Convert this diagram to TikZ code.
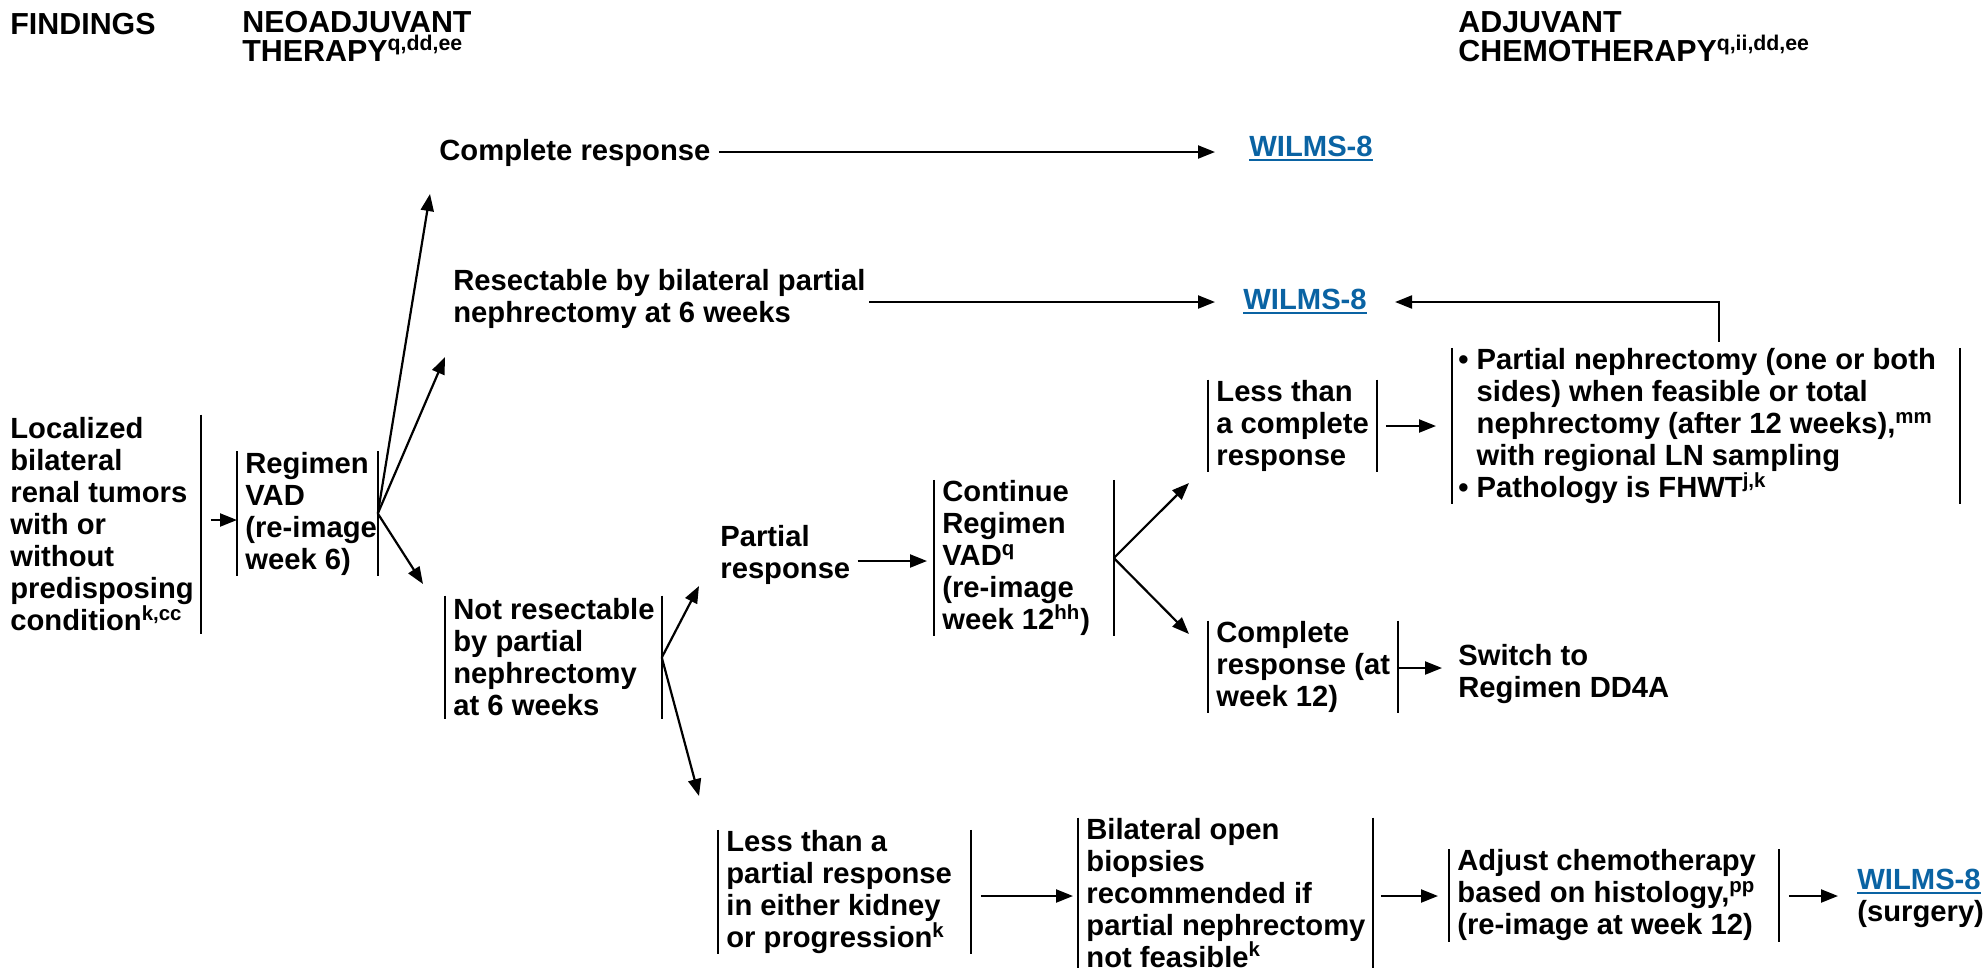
\documentclass[tikz,border=0pt]{standalone}
\usepackage{fontspec}
\setmainfont{Liberation Sans}
\usetikzlibrary{arrows.meta,calc}
\definecolor{linkblue}{RGB}{10,99,163}
\newcommand{\lns}[1]{\vbox{\lineskiplimit=-1000pt\halign{##\hfil\cr#1\crcr}}}
\newcommand{\bxc}[3][4pt]{\makebox[#2][l]{\hspace{#1}\lns{#3}}}
\newcommand{\wl}[1]{{\color{linkblue}\setbox0\hbox{#1}\rlap{\rule[-2.4pt]{\wd0}{1.1pt}}\box0}}
\newcommand{\sups}[1]{\textsuperscript{#1}}
\tikzset{
  body/.style={font=\fontsize{14.6}{16}\selectfont\bfseries},
  hdr/.style={font=\fontsize{15.2}{14.3}\selectfont\bfseries, inner sep=0pt, anchor=base west},
  txt/.style={body, inner sep=0pt, anchor=base west},
  bx/.style={body, inner sep=0pt, anchor=west, minimum height=#1},
  arr/.style={line width=1.1pt, -{Triangle[length=8.5pt,width=6.5pt]}},
  bar/.style={line width=1pt},
}
\begin{document}
\begin{tikzpicture}[x=0.5pt,y=-0.5pt]
\useasboundingbox (0,0) rectangle (1988,970);
% headers
\node[hdr] (h1) at (10,34) {FINDINGS};
\node[hdr] (h2) at (242,61) {\lns{NEOADJUVANT\cr THERAPY\sups{q,dd,ee}}};
\node[hdr] (h3) at (1458,61) {\lns{ADJUVANT\cr CHEMOTHERAPY\sups{q,ii,dd,ee}}};
% nodes
\node[bx=109.5pt] (A) at (2,524.5) {\bxc{99pt}{Localized\cr bilateral\cr renal tumors\cr with or\cr without\cr predisposing\cr condition\sups{k,cc}}};
\node[bx=61.5pt] (B) at (237,513.5) {\bxc{70pt}{Regimen\cr VAD\cr (re-image\cr week 6)}};
\node[txt] (cr) at (439,160) {Complete response};
\node[txt] (rs) at (453,322) {\lns{Resectable by bilateral partial\cr nephrectomy at 6 weeks}};
\node[txt] (W1) at (1249,156) {\wl{WILMS-8}};
\node[txt] (W2) at (1243,309) {\wl{WILMS-8}};
\node[bx=46pt] (lc) at (1208,426) {\bxc{84pt}{Less than\cr a complete\cr response}};
\node[bx=77pt] (pn) at (1452,426) {\bxc[3pt]{253.5pt}{\textbullet\ Partial nephrectomy (one or both\cr \phantom{\textbullet\ }sides) when feasible or total\cr \phantom{\textbullet\ }nephrectomy (after 12 weeks),\sups{mm}\cr \phantom{\textbullet\ }with regional LN sampling\cr \textbullet\ Pathology is FHWT\sups{j,k}}};
\node[bx=61.5pt] (nr) at (445,657.5) {\bxc{108pt}{Not resectable\cr by partial\cr nephrectomy\cr at 6 weeks}};
\node[txt] (pr) at (720,578) {\lns{Partial\cr response}};
\node[bx=76pt] (cont) at (934,558) {\bxc{89.5pt}{Continue\cr Regimen\cr VAD\sups{q}\cr (re-image\cr week 12\sups{hh})}};
\node[bx=46pt] (crw) at (1208,667) {\bxc{94.5pt}{Complete\cr response (at\cr week 12)}};
\node[txt] (sw) at (1458,697) {\lns{Switch to\cr Regimen DD4A}};
\node[bx=59pt] (lp) at (718,892) {\bxc{126pt}{Less than a\cr partial response\cr in either kidney\cr or progression\sups{k}}};
\node[bx=75pt] (bo) at (1078,893) {\bxc{147pt}{Bilateral open\cr biopsies\cr recommended if\cr partial nephrectomy\cr not feasible\sups{k}}};
\node[bx=45.5pt] (adj) at (1449,895.5) {\bxc{164.5pt}{Adjust chemotherapy\cr based on histology,\sups{pp}\cr (re-image at week 12)}};
\node[txt] (W3) at (1857,921) {\lns{\wl{WILMS-8}\cr (surgery)}};
% bars
\draw[bar] (A.north east) -- (A.south east);
\foreach \n in {B,lc,pn,nr,cont,crw,lp,bo,adj}{
  \draw[bar] (\n.north west) -- (\n.south west) (\n.north east) -- (\n.south east);
}
% helper coordinates
\coordinate (yAB) at (0,520);
\coordinate (yCR) at (0,152);
\coordinate (yRS) at (0,302);
\coordinate (yLC) at (0,426);
\coordinate (yPR) at (0,561);
\coordinate (yCW) at (0,668);
\coordinate (yBot) at (0,896);
\coordinate (fb) at (1719,0);
\coordinate (t1) at (430,194);
\coordinate (t2) at (445,357);
\coordinate (t3) at (423,584);
\coordinate (t4) at (699,586);
\coordinate (t5) at (699,796);
\coordinate (t6) at (1189,483);
\coordinate (t7) at (1189,634);
% connectors
\draw[arr, shorten <=5pt] (A.east |- yAB) -- (B.west |- yAB);
\draw[arr] (B.east) -- (t1);
\draw[arr] (B.east) -- (t2);
\draw[arr] (B.east) -- (t3);
\draw[arr, shorten <=4pt, shorten >=17pt] (cr.east |- yCR) -- (W1.west |- yCR);
\draw[arr, shorten <=1.5pt, shorten >=14pt] (rs.east |- yRS) -- (W2.west |- yRS);
\draw[arr, shorten <=3pt, shorten >=14pt] (pn.north -| fb) -- (fb |- yRS) -- (W2.east |- yRS);
\draw[arr, shorten <=4.5pt, shorten >=8pt] (lc.east |- yLC) -- (pn.west |- yLC);
\draw[arr] (nr.east) -- (t4);
\draw[arr] (nr.east) -- (t5);
\draw[arr, shorten <=3.5pt, shorten >=3.5pt] (pr.east |- yPR) -- (cont.west |- yPR);
\draw[arr] (cont.east) -- (t6);
\draw[arr] (cont.east) -- (t7);
\draw[arr, shorten <=0.5pt, shorten >=8pt] (crw.east |- yCW) -- (sw.west |- yCW);
\draw[arr, shorten <=5pt, shorten >=2.5pt] (lp.east |- yBot) -- (bo.west |- yBot);
\draw[arr, shorten <=4pt, shorten >=5.5pt] (bo.east |- yBot) -- (adj.west |- yBot);
\draw[arr, shorten <=5pt, shorten >=9.5pt] (adj.east |- yBot) -- (W3.west |- yBot);
\end{tikzpicture}
\end{document}
